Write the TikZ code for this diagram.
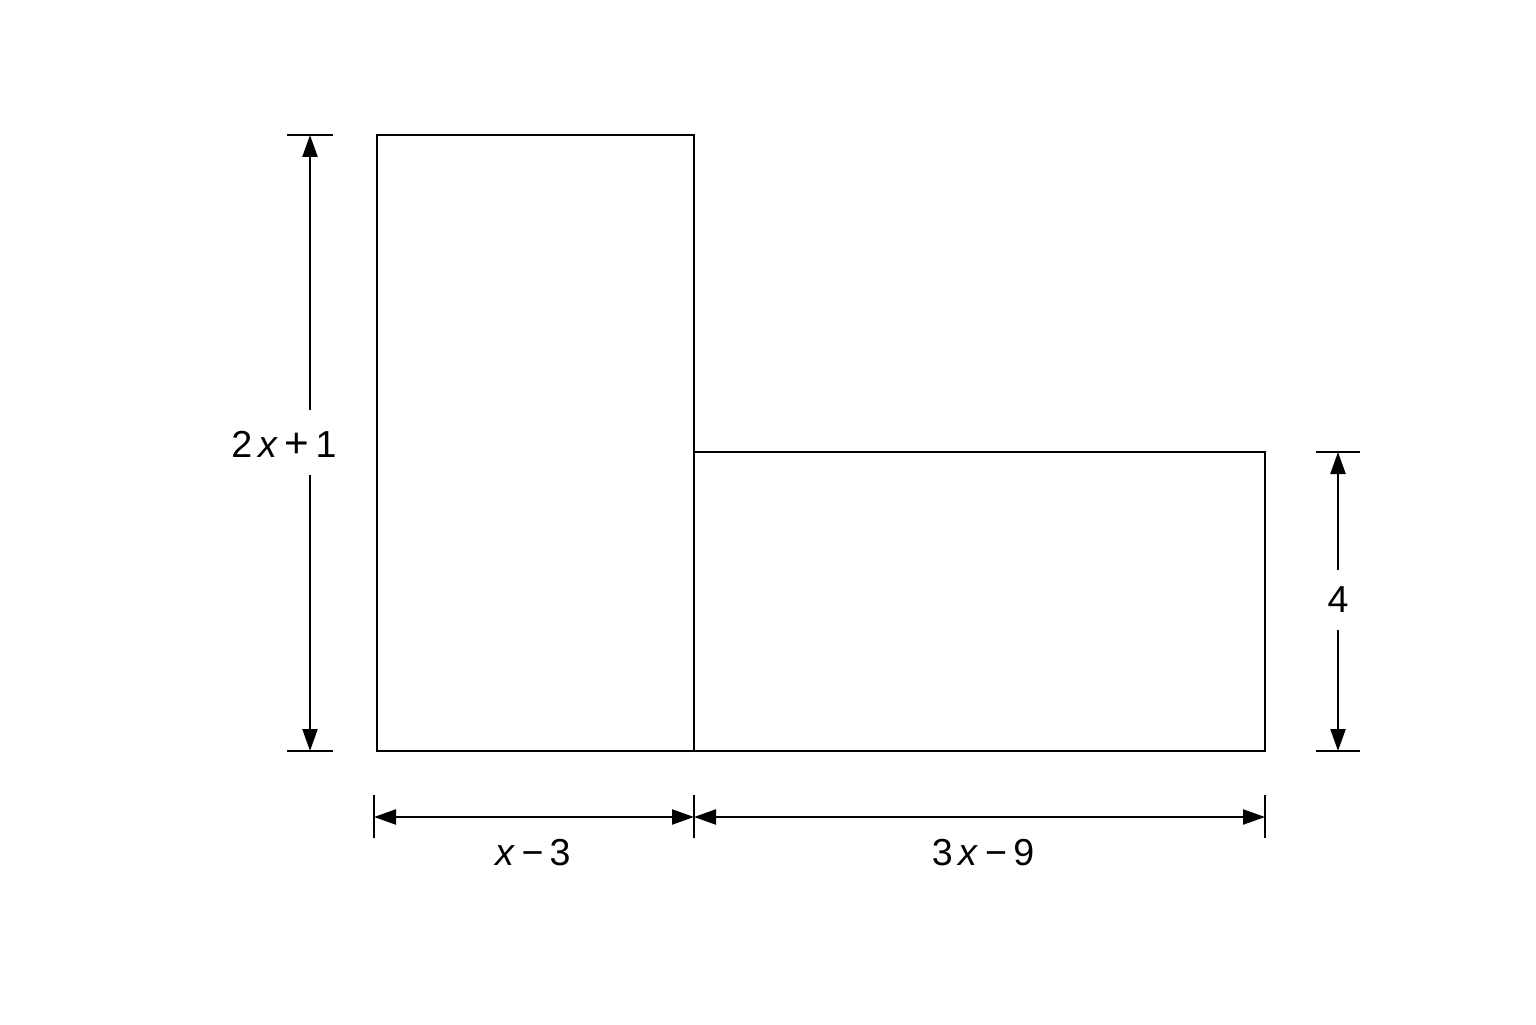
\documentclass[tikz,border=0pt]{standalone}
\usepackage{fontspec}
\setmainfont{Liberation Sans}
\usetikzlibrary{arrows.meta}
\begin{document}
\begin{tikzpicture}[
          shape line/.style={line width=0.75pt},
          dim line/.style={line width=0.65pt, -{Triangle[length=2.2mm, width=1.5mm]}},
          tick line/.style={line width=0.65pt},
          every node/.style={font=\fontsize{10.7}{13}\selectfont, inner sep=0pt}
    ]
      \useasboundingbox (0,0) rectangle (15.36,10.24);

      % corners of the figure
      \coordinate (A) at (3.77,2.73);
      \coordinate (B) at (6.94,2.73);
      \coordinate (C) at (12.65,2.73);
      \coordinate (D) at (12.65,5.72);
      \coordinate (E) at (6.94,5.72);
      \coordinate (F) at (6.94,8.89);
      \coordinate (G) at (3.77,8.89);

      \draw[shape line] (A) -- (C) -- (D) -- (E) -- (F) -- (G) -- cycle;
      \draw[shape line] (E) -- (B);

      % left dimension
      \coordinate (lTop) at (3.10,8.89);
      \coordinate (lBot) at (3.10,2.73);
      \draw[tick line] (2.87,8.89) -- (3.33,8.89);
      \draw[tick line] (2.87,2.73) -- (3.33,2.73);
      \node (lLab) at (2.84,5.80) {2\,\textit{x}\,{\large+}\,1};
      \draw[dim line] (3.10,6.14) -- (lTop);
      \draw[dim line] (3.10,5.49) -- (lBot);

      % right dimension
      \coordinate (rTop) at (13.38,5.72);
      \coordinate (rBot) at (13.38,2.73);
      \draw[tick line] (13.16,5.72) -- (13.60,5.72);
      \draw[tick line] (13.16,2.73) -- (13.60,2.73);
      \node (rLab) at (13.38,4.24) {4};
      \draw[dim line] (13.38,4.54) -- (rTop);
      \draw[dim line] (13.38,3.94) -- (rBot);

      % bottom dimensions
      \coordinate (b1) at (3.74,2.07);
      \coordinate (b2) at (6.94,2.07);
      \coordinate (b3) at (12.65,2.07);
      \foreach \p in {b1,b2,b3}
        \draw[tick line] ([yshift=2.2mm]\p) -- ([yshift=-2.1mm]\p);
      \draw[dim line, {Triangle[length=2.2mm, width=1.5mm]}-{Triangle[length=2.2mm, width=1.5mm]}] (b1) -- (b2);
      \draw[dim line, {Triangle[length=2.2mm, width=1.5mm]}-{Triangle[length=2.2mm, width=1.5mm]}] (b2) -- (b3);
      \node (bLab1) at (5.33,1.71) {\textit{x}\,−\,3};
      \node (bLab2) at (9.83,1.71) {3\,\textit{x}\,−\,9};

      \end{tikzpicture}
\end{document}
